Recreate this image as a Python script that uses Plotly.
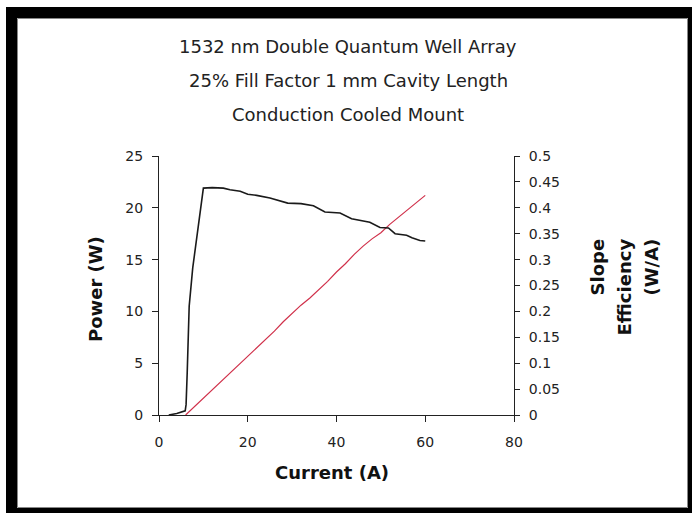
import plotly.graph_objects as go

# ---- data ----
power_current = [6, 8, 10, 12, 14, 16, 18, 20, 22, 24, 26, 28, 30, 32, 34, 36, 38, 40,
                 42, 44, 46, 48, 50, 52, 54, 56, 58, 60]
power_w = [0.0, 0.8, 1.6, 2.4, 3.2, 4.0, 4.8, 5.6, 6.5, 7.3, 8.1, 9.0, 9.8, 10.6, 11.3,
           12.1, 12.9, 13.8, 14.6, 15.5, 16.3, 17.0, 17.6, 18.4, 19.1, 19.8, 20.5, 21.2]

slope_current = [2.2, 4, 5.9, 6.1, 6.35, 6.8, 7.6, 8.1, 10, 12, 14.5, 16, 18.3, 20, 22, 25,
                 27.3, 29, 32, 34.8, 37.4, 40.8, 43.4, 45.5, 47.5, 49.8, 51.7, 53.2, 55.8,
                 57, 58.8, 60]
slope_eff = [0.0, 0.003, 0.008, 0.02, 0.08, 0.21, 0.284, 0.318, 0.438, 0.439, 0.438, 0.435,
             0.432, 0.426, 0.424, 0.419, 0.413, 0.409, 0.408, 0.404, 0.392, 0.390, 0.379,
             0.376, 0.372, 0.362, 0.361, 0.350, 0.347, 0.342, 0.337, 0.336]

title_lines = ["1532 nm Double Quantum Well Array",
               "25% Fill Factor 1 mm Cavity Length",
               "Conduction Cooled Mount"]
x_title = "Current (A)"
y_title = "Power (W)"
y2_title_lines = ["Slope", "Efficiency", "(W/A)"]

# ---- layout geometry (pixels) ----
W, H = 692, 513
L, R, T, B = 159, 178, 156, 98
PW, PH = W - L - R, H - T - B


def px(x):
    return (x - L) / PW


def py(y):
    return (H - B - y) / PH


FONT = "DejaVu Sans"

fig = go.Figure()
fig.add_trace(go.Scatter(x=power_current, y=power_w, mode="lines",
                         line=dict(color="#d0304a", width=1.2), yaxis="y",
                         showlegend=False))
fig.add_trace(go.Scatter(x=slope_current, y=slope_eff, mode="lines",
                         line=dict(color="#1a1a1a", width=1.6), yaxis="y2",
                         showlegend=False))

tickfont = dict(family=FONT, size=14, color="#222")
fig.update_layout(
    width=W, height=H,
    margin=dict(l=L, r=R, t=T, b=B, pad=0),
    paper_bgcolor="white", plot_bgcolor="white",
    xaxis=dict(range=[0, 80], dtick=20, showgrid=False, zeroline=False,
               showline=True, linecolor="#222", linewidth=1,
               ticks="outside", ticklen=6, tickcolor="#222",
               tickfont=tickfont, ticklabelstandoff=8),
    yaxis=dict(range=[0, 25], dtick=5, showgrid=False, zeroline=False,
               showline=True, linecolor="#222", linewidth=1,
               ticks="outside", ticklen=6, tickcolor="#222",
               tickfont=tickfont, ticklabelstandoff=6),
    yaxis2=dict(range=[0, 0.5], dtick=0.05, overlaying="y", side="right",
                anchor="x", showgrid=False, zeroline=False,
                showline=True, linecolor="#222", linewidth=1,
                ticks="outside", ticklen=5, tickcolor="#222",
                tickfont=tickfont, ticklabelstandoff=6),
    yaxis3=dict(range=[0, 0.5], dtick=0.05, overlaying="y", side="right",
                anchor="x", showgrid=False, zeroline=False, showline=False,
                ticks="inside", ticklen=5, tickcolor="#222",
                showticklabels=False),
)

annotations = []
for txt, yc in zip(title_lines, [47, 81, 114]):
    annotations.append(dict(text=txt, x=px(348), y=py(yc), xref="paper", yref="paper",
                            showarrow=False, xanchor="center", yanchor="middle",
                            font=dict(family=FONT, size=18, color="#222")))
annotations.append(dict(text="<b>" + x_title + "</b>", x=px(332), y=py(472),
                        xref="paper", yref="paper", showarrow=False,
                        xanchor="center", yanchor="middle",
                        font=dict(family=FONT, size=18, color="#111")))
annotations.append(dict(text="<b>" + y_title + "</b>", x=px(95), y=py(289),
                        xref="paper", yref="paper", showarrow=False, textangle=-90,
                        xanchor="center", yanchor="middle",
                        font=dict(family=FONT, size=18, color="#111")))
for txt, xc in zip(y2_title_lines, [597, 624, 651]):
    annotations.append(dict(text="<b>" + txt + "</b>", x=px(xc), y=py(237),
                            xref="paper", yref="paper", showarrow=False, textangle=-90,
                            xanchor="center", yanchor="top",
                            font=dict(family=FONT, size=18, color="#111")))
fig.update_layout(annotations=annotations)

# frame around the picture
shapes = []
for x0, y0, x1, y1 in [(6, 7, 17, 513), (6, 7, 692, 18), (688, 7, 692, 513), (6, 508, 692, 513)]:
    shapes.append(dict(type="rect", xref="paper", yref="paper",
                       x0=px(x0), x1=px(x1), y0=py(y1), y1=py(y0),
                       fillcolor="black", line=dict(width=0), layer="above"))
shapes.append(dict(type="rect", xref="paper", yref="paper",
                   x0=px(17.5), x1=px(687.5), y0=py(507.5), y1=py(18.5),
                   fillcolor="rgba(0,0,0,0)", line=dict(color="#888", width=1)))
fig.update_layout(shapes=shapes)

fig.write_html("out.html")
